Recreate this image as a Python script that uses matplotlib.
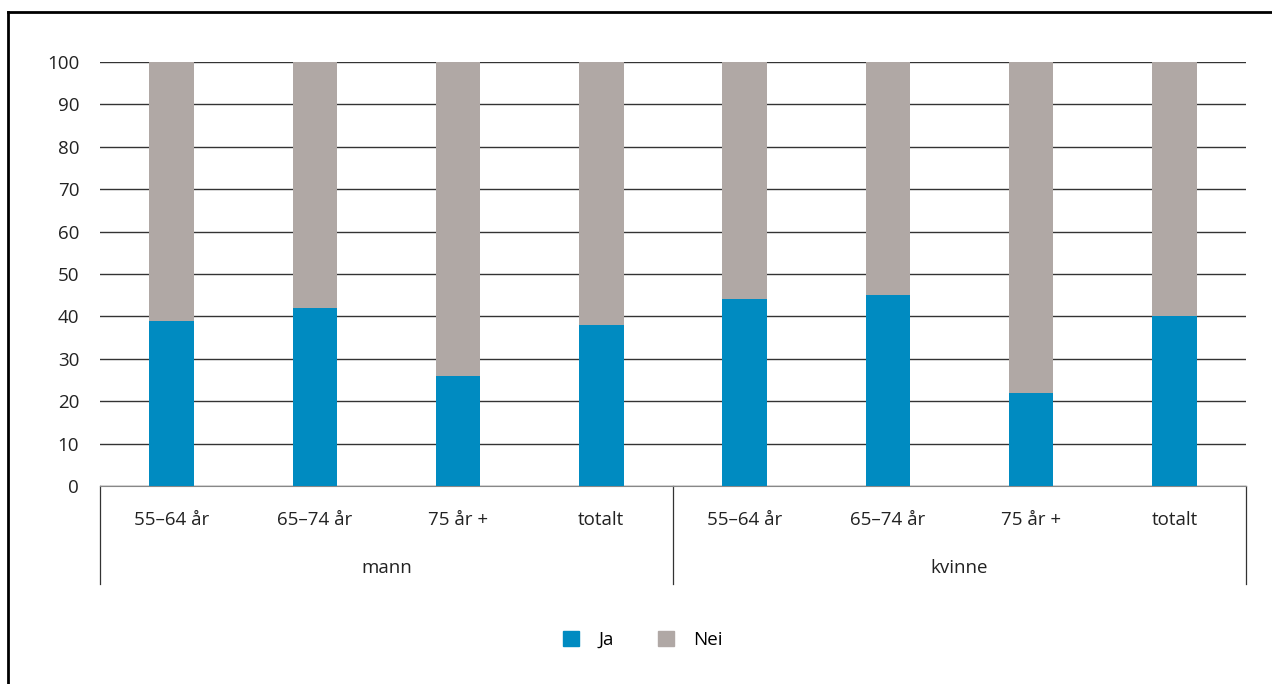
import matplotlib.pyplot as plt
from matplotlib.lines import Line2D
from matplotlib.patches import Patch
import matplotlib.transforms as mtransforms

plt.rcParams['font.family'] = ['Open Sans', 'DejaVu Sans']

# data
groups = ['mann', 'kvinne']
categories = ['55\u201364 år', '65\u201374 år', '75 år +', 'totalt']
ja = [39, 42, 26, 38, 44, 45, 22, 40]
nei = [61, 58, 74, 62, 56, 55, 78, 60]

blue = '#008bc1'
grey = '#b0a8a5'
fs = 13.5

fig = plt.figure(figsize=(12.72, 6.84), dpi=100)
ax = fig.add_axes([100 / 1272, 1 - 486 / 684, 1146 / 1272, 424 / 684])

x = list(range(len(ja)))
ax.bar(x, ja, width=0.31, color=blue, zorder=3)
ax.bar(x, nei, width=0.31, bottom=ja, color=grey, zorder=3)

ax.set_xlim(-0.5, len(ja) - 0.5)
ax.set_ylim(0, 100)
ax.set_yticks(range(0, 101, 10))
ax.yaxis.grid(True, color='#333333', lw=1)
ax.set_axisbelow(True)
for s in ['top', 'right', 'left']:
    ax.spines[s].set_visible(False)
ax.spines['bottom'].set_color('#888888')
ax.tick_params(axis='y', length=0, pad=15, labelsize=fs, colors='#222222')
ax.set_xticks([])

trans = mtransforms.blended_transform_factory(ax.transData, ax.transAxes)
for sep in [-0.5, 3.5, 7.5]:
    ax.plot([sep, sep], [0, -0.231], transform=trans, color='#333333', lw=0.9, clip_on=False)
for i in x:
    ax.text(i, -0.08, categories[i % 4], transform=trans, ha='center', va='center',
            fontsize=fs, color='#222222')
for g, name in enumerate(groups):
    ax.text(g * 4 + 1.5, -0.193, name, transform=trans, ha='center', va='center',
            fontsize=fs, color='#222222')

handles = [Patch(color=blue), Patch(color=grey)]
fig.legend(handles, ['Ja', 'Nei'], loc='center', bbox_to_anchor=(643 / 1272, 1 - 640 / 684),
           ncol=2, frameon=False, fontsize=fs, handlelength=0.85, handleheight=0.85,
           columnspacing=2.4, handletextpad=1.0)

# outer frame (top and left)
fig.add_artist(Line2D([8 / 1272, 1], [1 - 12 / 684, 1 - 12 / 684], color='black', lw=2))
fig.add_artist(Line2D([8 / 1272, 8 / 1272], [0, 1 - 12 / 684], color='black', lw=2))

fig.savefig('out.png', dpi=100)
